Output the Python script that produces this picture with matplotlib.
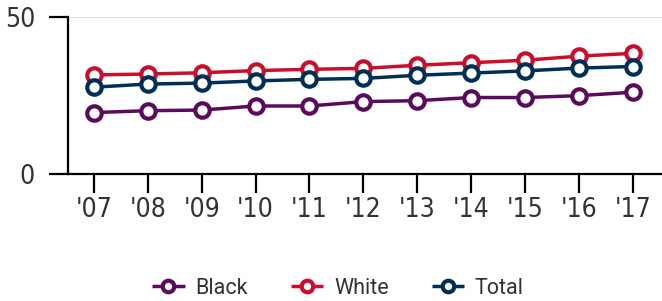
import matplotlib
matplotlib.use("Agg")
import matplotlib.pyplot as plt
from matplotlib import font_manager as fm

years = ["'07", "'08", "'09", "'10", "'11", "'12", "'13", "'14", "'15", "'16", "'17"]
black = [19.6, 20.2, 20.4, 21.7, 21.7, 23.1, 23.4, 24.4, 24.4, 25.0, 26.1]
white = [31.6, 31.9, 32.3, 33.0, 33.4, 33.7, 34.7, 35.5, 36.3, 37.6, 38.5]
total = [27.7, 28.7, 29.0, 29.7, 30.2, 30.5, 31.5, 32.2, 32.9, 33.8, 34.3]

tick_prop = None
for f in fm.fontManager.ttflist:
    if ("Condensed" in f.name or "Narrow" in f.name or f.stretch in ("condensed", "semi-condensed")) \
            and f.weight in (400, "normal", "regular") and f.style == "normal":
        tick_prop = fm.FontProperties(fname=f.fname, size=19)
        break
if tick_prop is None:
    tick_prop = fm.FontProperties(family="Roboto", size=18)

fig = plt.figure(figsize=(6.62, 3.01), dpi=100)
ax = fig.add_axes([68/662, 1 - 174/301, (662-68)/662, (174-17.3)/301])

x = list(range(len(years)))
series = [("Black", black, "#5b0b5c"), ("White", white, "#c8102e"), ("Total", total, "#002f56")]
for name, vals, col in series:
    ax.plot(x, vals, color=col, lw=2.5, marker="o", ms=10.4, mfc="white", mec=col, mew=3.0,
            label=name, solid_capstyle="butt", zorder=3)

ax.set_xlim(-0.48, 10.54)
ax.set_ylim(0, 50)
ax.set_yticks([0, 50])
ax.set_xticks(x)
ax.set_xticklabels(years)
ax.axhline(50, color="#dddddd", lw=1.5, zorder=1)
for s in ["top", "right"]:
    ax.spines[s].set_visible(False)
for s in ["left", "bottom"]:
    ax.spines[s].set_color("black")
    ax.spines[s].set_linewidth(1.6)
ax.tick_params(axis="x", length=13.7, width=1.6, color="black", pad=3)
ax.tick_params(axis="y", length=13.7, width=1.6, color="black", pad=10)
for lab in ax.get_xticklabels() + ax.get_yticklabels():
    lab.set_fontproperties(tick_prop)
    lab.set_color("#333333")

leg = fig.legend(loc="center", bbox_to_anchor=(338/662, 1 - 288/301), ncol=3, frameon=False,
                 prop={"family": "Roboto", "size": 15.5}, handlelength=1.5, columnspacing=2.0,
                 handletextpad=0.5, markerscale=0.8)
for t in leg.get_texts():
    t.set_color("#333333")

fig.savefig("out.png", dpi=100)
